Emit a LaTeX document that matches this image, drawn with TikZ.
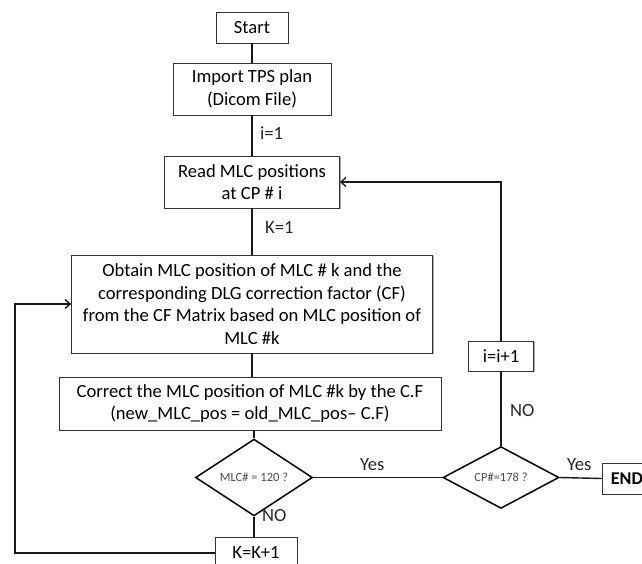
\documentclass[tikz,border=0pt]{standalone}
\usepackage{fontspec}
\setmainfont{Carlito}
\usetikzlibrary{arrows.meta,shapes.geometric,shadows}
\begin{document}
\begin{tikzpicture}[x=1pt,y=-1pt,
  box/.style={draw=black!80, line width=0.8pt, fill=white, align=center, inner sep=0pt,
    font=\fontsize{18.6}{22.5}\selectfont,
    drop shadow={shadow xshift=1pt, shadow yshift=-1pt, fill=black!35, opacity=1}},
  decision/.style={diamond, draw=black, line width=1.5pt, fill=white, inner sep=0pt,
    minimum width=117pt, minimum height=43pt, font=\fontsize{12.5}{14}\selectfont, text=black!70},
  conn/.style={line width=1.4pt, draw=black!90},
  arr/.style={conn, -{Straight Barb[length=5pt,width=9pt]}},
  lab/.style={font=\fontsize{18.6}{22}\selectfont, anchor=west, inner sep=0pt, text=black!85}]
\useasboundingbox (0,0) rectangle (642,563);
\clip (0,0) rectangle (642,563);

\node[box, minimum width=72pt, minimum height=31pt] (start) at (252,27.5) {Start};
\node[box, minimum width=158pt, minimum height=52pt] (import) at (252,89) {Import TPS plan\\(Dicom File)};
\node[box, minimum width=175pt, minimum height=52pt] (read) at (252,182) {Read MLC positions\\at CP \# i};
\node[box, minimum width=361pt, minimum height=98pt] (obtain) at (252,304) {Obtain MLC position of MLC \# k and the\\corresponding DLG correction factor (CF)\\from the CF Matrix based on MLC position of\\MLC \#k};
\node[box, minimum width=382pt, minimum height=53pt] (corr) at (250,403.5) {Correct the MLC position of MLC \#k by the C.F\\(new\_MLC\_pos = old\_MLC\_pos-- C.F)};
\node[decision] (mlc) at (254,477.5) {MLC\# = 120 ?};
\node[box, minimum width=82pt, minimum height=32pt] (kk) at (256,553) {K=K+1};
\node[decision, minimum width=116pt] (cp) at (501,477.5) {CP\#=178 ?};
\node[box, anchor=west, minimum height=31pt, inner xsep=8.5pt, font=\fontsize{18}{20}\selectfont\bfseries] (end) at (602,478.5) {END\hspace*{20pt}};
\node[box, minimum width=65pt, minimum height=30pt] (ii) at (501,356) {i=i+1};

\coordinate (L) at (15,553);

\draw[conn] (start) -- (import);
\draw[conn] (import) -- (read);
\draw[conn] (read) -- (obtain);
\draw[conn] (obtain.south) -- (obtain.south |- corr.north);
\draw[conn] (mlc.north) -- (mlc.north |- corr.south);
\draw[conn] (mlc.south) -- (mlc.south |- kk.north);
\draw[arr] (kk.west) -- (kk.west -| L) |- (obtain.west);
\draw[conn] (mlc.east) -- (cp.west);
\draw[conn] (cp.east) -- (end.west);
\draw[conn] (cp.north) -- (ii.south);
\draw[arr] (ii.north) |- (read.east);

\node[lab] (li) at (260,133) {i=1};
\node[lab] (lk) at (265,228) {K=1};
\node[lab] (lno1) at (262,516) {NO};
\node[lab] (lno2) at (510,411) {NO};
\node[lab] (ly1) at (360,465) {Yes};
\node[lab] (ly2) at (567,465) {Yes};
\end{tikzpicture}
\end{document}
